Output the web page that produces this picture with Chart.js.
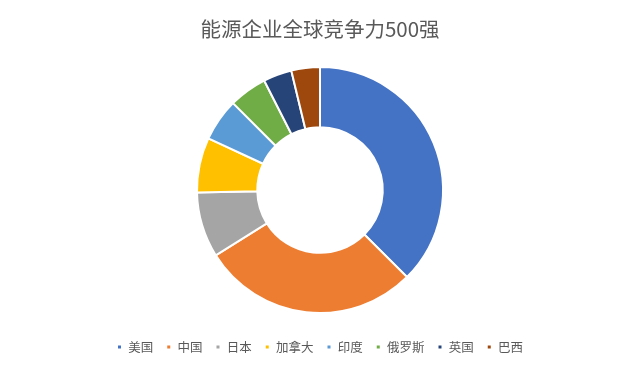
<!DOCTYPE html>
<html lang="zh">
  <head>
    <meta charset="UTF-8" />
    <title>能源企业全球竞争力500强</title>
    <style>
      html, body { margin: 0; padding: 0; background: #fff; }
      #box { width: 640px; height: 374px; }
    </style>
  </head>
  <body>
    <div id="box"><canvas id="donutCanvas" width="640" height="374"></canvas></div>

    <script src="https://cdn.jsdelivr.net/npm/chart.js@4/dist/chart.umd.min.js"></script>
    <script>
        // 국가별 비중 (%), 그림에서 각도로 읽은 값
        const countries = ['美国', '中国', '日本', '加拿大', '印度', '俄罗斯', '英国', '巴西'];
        const shares = [37.5, 28.6, 8.6, 7.2, 5.6, 5.0, 3.75, 3.75];
        const colors = ['#4472C4', '#ED7D31', '#A5A5A5', '#FFC000', '#5B9BD5', '#70AD47', '#264478', '#9E480E'];

        const fontFamily = '"Noto Sans CJK SC", "Microsoft YaHei", sans-serif';

        window.onload = function () {
            let ctx = document.getElementById('donutCanvas').getContext('2d');
            window.donut = new Chart(ctx, {
                type: 'doughnut',
                data: {
                    labels: countries,
                    datasets: [{
                        data: shares,
                        backgroundColor: colors,
                        borderColor: '#ffffff',
                        borderWidth: 2
                    }]
                },
                options: {
                    responsive: false,
                    animation: false,
                    radius: 123,
                    cutout: '51%',
                    layout: { padding: { top: 0, bottom: 10.75, left: 0, right: 0 } },
                    plugins: {
                        title: {
                            display: true,
                            text: '能源企业全球竞争力500强',
                            color: '#595959',
                            font: { family: fontFamily, size: 20.5, weight: 'normal', lineHeight: 1.2 },
                            padding: { top: 16.7, bottom: 11.15 }
                        },
                        legend: {
                            position: 'bottom',
                            labels: {
                                color: '#595959',
                                boxWidth: 5,
                                boxHeight: 5,
                                padding: 13,
                                font: { family: fontFamily, size: 12.5 }
                            }
                        },
                        tooltip: { enabled: false }
                    }
                }
            });
        };
    </script>
  </body>
</html>
